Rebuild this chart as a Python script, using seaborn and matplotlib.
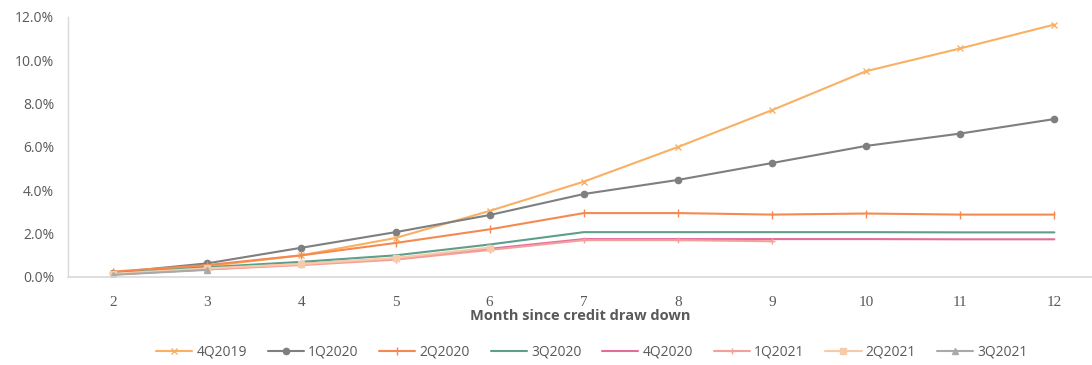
import matplotlib
matplotlib.use("Agg")
import matplotlib.pyplot as plt
import seaborn as sns
import pandas as pd
from matplotlib.ticker import FuncFormatter

months = [2, 3, 4, 5, 6, 7, 8, 9, 10, 11, 12]
series_names = ["4Q2019", "1Q2020", "2Q2020", "3Q2020", "4Q2020", "1Q2021", "2Q2021", "3Q2021"]

v_4Q2019 = [0.20, 0.50, 1.00, 1.80, 3.05, 4.40, 6.00, 7.70, 9.50, 10.55, 11.65]
v_1Q2020 = [0.20, 0.63, 1.35, 2.07, 2.86, 3.83, 4.48, 5.26, 6.05, 6.62, 7.29]
v_2Q2020 = [0.25, 0.55, 1.00, 1.57, 2.20, 2.95, 2.95, 2.88, 2.93, 2.88, 2.88]
v_3Q2020 = [0.15, 0.45, 0.70, 1.00, 1.50, 2.07, 2.07, 2.07, 2.07, 2.06, 2.06]
v_4Q2020 = [0.12, 0.35, 0.60, 0.85, 1.30, 1.75, 1.75, 1.75, 1.75, 1.74, 1.74]
v_1Q2021 = [0.12, 0.35, 0.55, 0.80, 1.25, 1.70, 1.70, 1.65]
v_2Q2021 = [0.15, 0.40, 0.60, 0.88, 1.36]
v_3Q2021 = [0.10, 0.33]

values = [v_4Q2019, v_1Q2020, v_2Q2020, v_3Q2020, v_4Q2020, v_1Q2021, v_2Q2021, v_3Q2021]
colors = ["#F9B064", "#7F7F7F", "#F5894F", "#5E9E8B", "#E46C9A", "#F4A09A", "#F8CBA8", "#A9A9A9"]
markers = ["x", "o", "|", None, None, "+", "s", "^"]
msizes = [4, 4.5, 6, 0, 0, 5, 4, 4]

rows = []
for name, vals in zip(series_names, values):
    for m, v in zip(months, vals):
        rows.append({"month": m, "rate": v / 100.0, "cohort": name})
df = pd.DataFrame(rows)

sns.set_style("white")
plt.rcParams['font.family'] = ['Open Sans', 'DejaVu Sans']

fig = plt.figure(figsize=(10.92, 3.65), dpi=100)
ax = fig.add_axes([68 / 1092, 1 - 277 / 365, 1 - 68 / 1092, (277 - 17) / 365])

for name, col, mk, ms in zip(series_names, colors, markers, msizes):
    sub = df[df["cohort"] == name]
    sns.lineplot(data=sub, x="month", y="rate", ax=ax, color=col, linewidth=1.5,
                 marker=mk, markersize=ms, markeredgecolor=col, markeredgewidth=1.0,
                 label=name)

ax.set_xlim(1.52, 12.40)
ax.set_ylim(0, 0.12)
ax.set_xticks(months)
ax.set_yticks([0, 0.02, 0.04, 0.06, 0.08, 0.10, 0.12])
ax.yaxis.set_major_formatter(FuncFormatter(lambda v, p: f"{v*100:.1f}%"))
ax.tick_params(axis="both", length=0, labelsize=10, colors="#595959")
ax.tick_params(axis="y", pad=10)
ax.tick_params(axis="x", pad=14)
for lab in ax.get_xticklabels():
    lab.set_fontfamily("Liberation Serif")
    lab.set_fontsize(11)

for s in ["top", "right"]:
    ax.spines[s].set_visible(False)
ax.spines["left"].set_color("#D9D9D9")
ax.spines["bottom"].set_color("#D9D9D9")
ax.spines["left"].set_linewidth(1.0)
ax.spines["bottom"].set_linewidth(1.2)

ax.set_xlabel("Month since credit draw down", fontsize=10.5, fontweight="bold", color="#595959", labelpad=0)
ax.set_ylabel("")

ax.get_legend().remove()
handles, labels = ax.get_legend_handles_labels()
fig.legend(handles, labels, loc="center", bbox_to_anchor=(0.542, 0.035), ncol=8, frameon=False,
           fontsize=10, handlelength=2.6, columnspacing=1.5, handletextpad=0.3,
           labelcolor="#595959")

fig.savefig("out.png", dpi=100)
